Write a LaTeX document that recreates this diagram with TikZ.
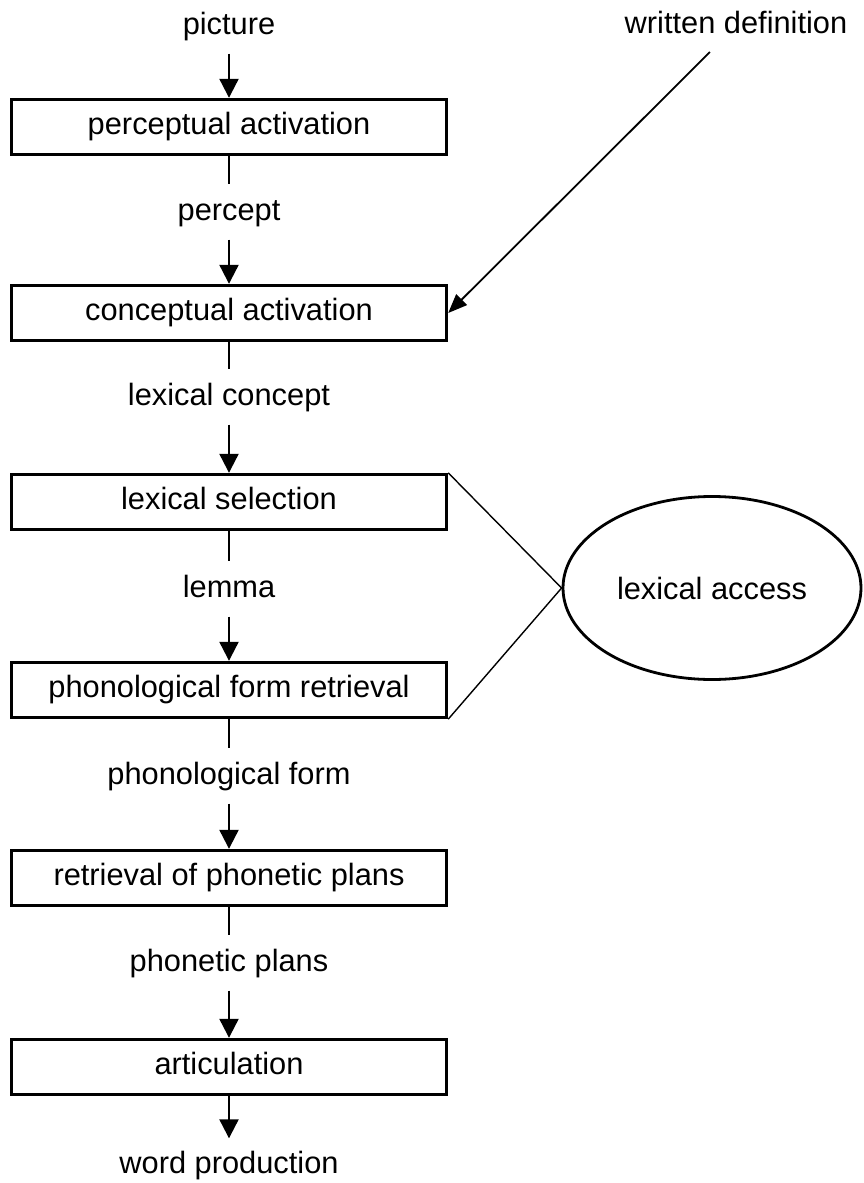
\documentclass[tikz,border=0pt]{standalone}
\usepackage{fontspec}
\setmainfont{Liberation Sans}
\usetikzlibrary{arrows.meta,shapes.geometric}
\begin{document}
\begin{tikzpicture}[x=1pt,y=-1pt,
  every node/.style={font=\fontsize{30.8}{36}\selectfont},
  stage/.style={draw,line width=3.4pt,minimum width=435pt,minimum height=55pt,inner sep=0pt,text height=22pt,text depth=7pt},
  lbl/.style={inner sep=0pt,text height=22pt,text depth=7pt},
  stub/.style={line width=1.8pt,shorten >=14pt},
  arr/.style={line width=2.2pt,shorten <=12pt,-{Triangle[length=19pt,width=19pt]}},
  thin/.style={line width=1.4pt}]
\useasboundingbox (0,0) rectangle (863,1183);
\node[lbl] (pic) at (229,27) {picture};
\node[stage] (b1) at (229,127) {perceptual activation};
\node[lbl] (l1) at (229,213) {percept};
\node[stage] (b2) at (229,313) {conceptual activation};
\node[lbl] (l2) at (229,398) {lexical concept};
\node[stage] (b3) at (229,502) {lexical selection};
\node[lbl] (l3) at (229,590) {lemma};
\node[stage] (b4) at (229,690) {phonological form retrieval};
\node[lbl] (l4) at (229,777) {phonological form};
\node[stage] (b5) at (229,878) {retrieval of phonetic plans};
\node[lbl] (l5) at (229,964) {phonetic plans};
\node[stage] (b6) at (229,1067) {articulation};
\node[lbl] (l6) at (229,1166) {word production};
\node[lbl] (wd) at (736,26) {written definition};
\node[draw,ellipse,line width=2.8pt,minimum width=298pt,minimum height=183pt] (la) at (712,588) {lexical access};

\draw[arr] (pic) -- (b1);
\draw[stub] (b1) -- (l1);
\draw[arr] (l1) -- (b2);
\draw[stub] (b2) -- (l2);
\draw[arr] (l2) -- (b3);
\draw[stub] (b3) -- (l3);
\draw[arr] (l3) -- (b4);
\draw[stub] (b4) -- (l4);
\draw[arr] (l4) -- (b5);
\draw[stub] (b5) -- (l5);
\draw[arr] (l5) -- (b6);
\draw[line width=2.2pt,shorten >=13pt,-{Triangle[length=19pt,width=19pt]}] (b6) -- (l6);
\draw[line width=1.8pt,shorten <=16pt,-{Triangle[length=19pt,width=15pt]}] (wd) -- (b2.east);
\draw[thin] (b3.north east) -- (la.west);
\draw[thin] (b4.south east) -- (la.west);
\end{tikzpicture}
\end{document}
